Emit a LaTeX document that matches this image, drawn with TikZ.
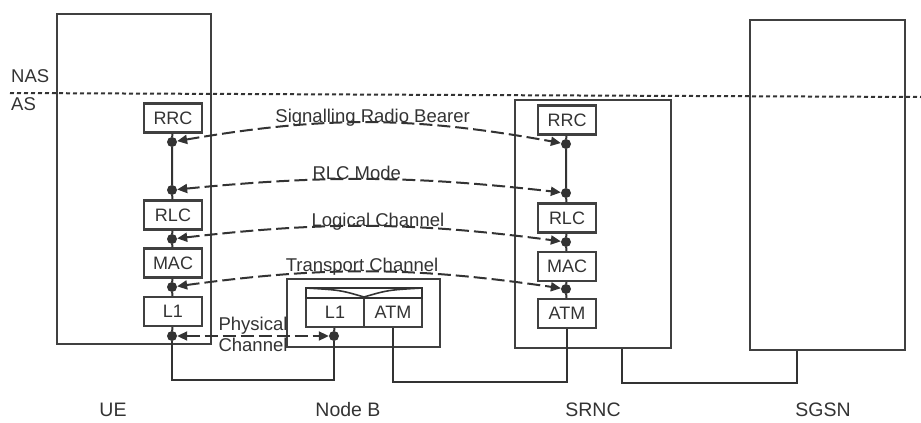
\documentclass[tikz,border=0pt]{standalone}
\usepackage{fontspec}
\setmainfont{Liberation Sans}
\usetikzlibrary{arrows.meta,positioning}

\begin{document}
\begin{tikzpicture}[x=1pt,y=-1pt,
  every node/.style={text=black!80},
  entity/.style={draw=black!75, line width=2pt, inner sep=0pt},
  layer/.style={draw=black!75, line width=2.3pt, minimum width=58pt, minimum height=29pt,
    inner sep=0pt, font=\fontsize{18}{18}\selectfont},
  pt/.style={circle, fill=black!80, inner sep=0pt, minimum size=10pt},
  wire/.style={draw=black!80, line width=2pt},
  chan/.style={draw=black!80, line width=2pt, dash pattern=on 13pt off 5pt,
    {Triangle[length=10pt,width=9pt]}-{Triangle[length=10pt,width=9pt]}},
  lab/.style={font=\fontsize{18.5}{18.5}\selectfont, inner sep=1pt},
  elname/.style={font=\fontsize{19.5}{19.5}\selectfont}
]
\useasboundingbox (0,0) rectangle (921,423);

% NAS / AS boundary
\draw[black!80, line width=2pt, dash pattern=on 4pt off 3pt] (10,93) -- (921,97);
\node[lab, anchor=west] (nas) at (10,76) {NAS};
\node[lab, anchor=west] (as) at (10,104) {AS};

% network elements
\node[entity, minimum width=154pt, minimum height=330pt] (ue) at (134,179) {};
\node[entity, minimum width=153pt, minimum height=68pt] (nodeb) at (363.5,313) {};
\node[entity, minimum width=156pt, minimum height=248pt] (srnc) at (593,224) {};
\node[entity, minimum width=155pt, minimum height=330pt] (sgsn) at (827.5,185) {};

% UE stack
\node[layer] (uerrc) at (173,118) {RRC};
\node[layer] (uerlc) at (173,215) {RLC};
\node[layer] (uemac) at (173,263) {MAC};
\node[layer] (uel1) at (173,311.5) {L1};
\node[pt] (ued1) at (172,142) {};
\node[pt] (ued2) at (172,190) {};
\node[pt] (ued3) at (172,239) {};
\node[pt] (ued4) at (172,287) {};
\node[pt] (ued5) at (172,336) {};

% Node B
\node[layer] (nbl1) at (335,312.5) {L1};
\node[layer] (nbatm) at (393,312.5) {ATM};
\draw[wire, line width=2.3pt] (306,288) rectangle (422,298);
\draw[wire, line width=1.6pt] (306,288) .. controls (340,290) .. (364,297) .. controls (388,290) .. (422,288);
\node[pt] (nbd) at (334,336) {};

% SRNC stack
\node[layer] (srrrc) at (567,120) {RRC};
\node[layer] (srrlc) at (567,218) {RLC};
\node[layer] (srmac) at (567,266.5) {MAC};
\node[layer] (sratm) at (567,313.5) {ATM};
\node[pt] (srd1) at (566,144) {};
\node[pt] (srd2) at (566,193) {};
\node[pt] (srd3) at (566,242) {};
\node[pt] (srd4) at (566,289) {};

% vertical links
\draw[wire] (uerrc) -- (ued1) -- (ued2) -- (uerlc);
\draw[wire] (uerlc) -- (ued3) -- (uemac);
\draw[wire] (uemac) -- (ued4) -- (uel1);
\draw[wire] (srrrc) -- (srd1) -- (srd2) -- (srrlc);
\draw[wire] (srrlc) -- (srd3) -- (srmac);
\draw[wire] (srmac) -- (srd4) -- (sratm);

% physical links
\coordinate (lowa) at (250,380);
\coordinate (lowb) at (480,382);
\coordinate (lowc) at (700,383);
\draw[wire] (uel1) -- (ued5);
\draw[wire] (nbl1) -- (nbd);
\draw[wire] (ued5) |- (lowa) -| (nbd);
\draw[wire] (nbatm) |- (lowb) -| (sratm);
\draw[wire] ([xshift=29pt]srnc.south) |- (lowc) -| ([xshift=-31pt]sgsn.south);

% channels
\draw[chan] (ued1) to[bend left=10] node[lab, pos=.51, anchor=base] {Signalling Radio Bearer} (srd1);
\draw[chan] (ued2) to[bend left=6] node[lab, pos=.465, anchor=base] {RLC Mode} (srd2);
\draw[chan] (ued3) to[bend left=7] node[lab, pos=.525, anchor=base] {Logical Channel} (srd3);
\draw[chan] (ued4) to[bend left=8] node[lab, pos=.48, anchor=base] {Transport Channel} (srd4);
\draw[chan] (ued5) -- (nbd) node[lab, midway, above=0pt] {Physical} node[lab, midway, below=0pt] {Channel};

% names
\node[elname] (uename) at (113,410) {UE};
\node[elname] (nbname) at (348,410) {Node B};
\node[elname] (srname) at (593,410) {SRNC};
\node[elname] (sgname) at (823,410) {SGSN};
\end{tikzpicture}
\end{document}
